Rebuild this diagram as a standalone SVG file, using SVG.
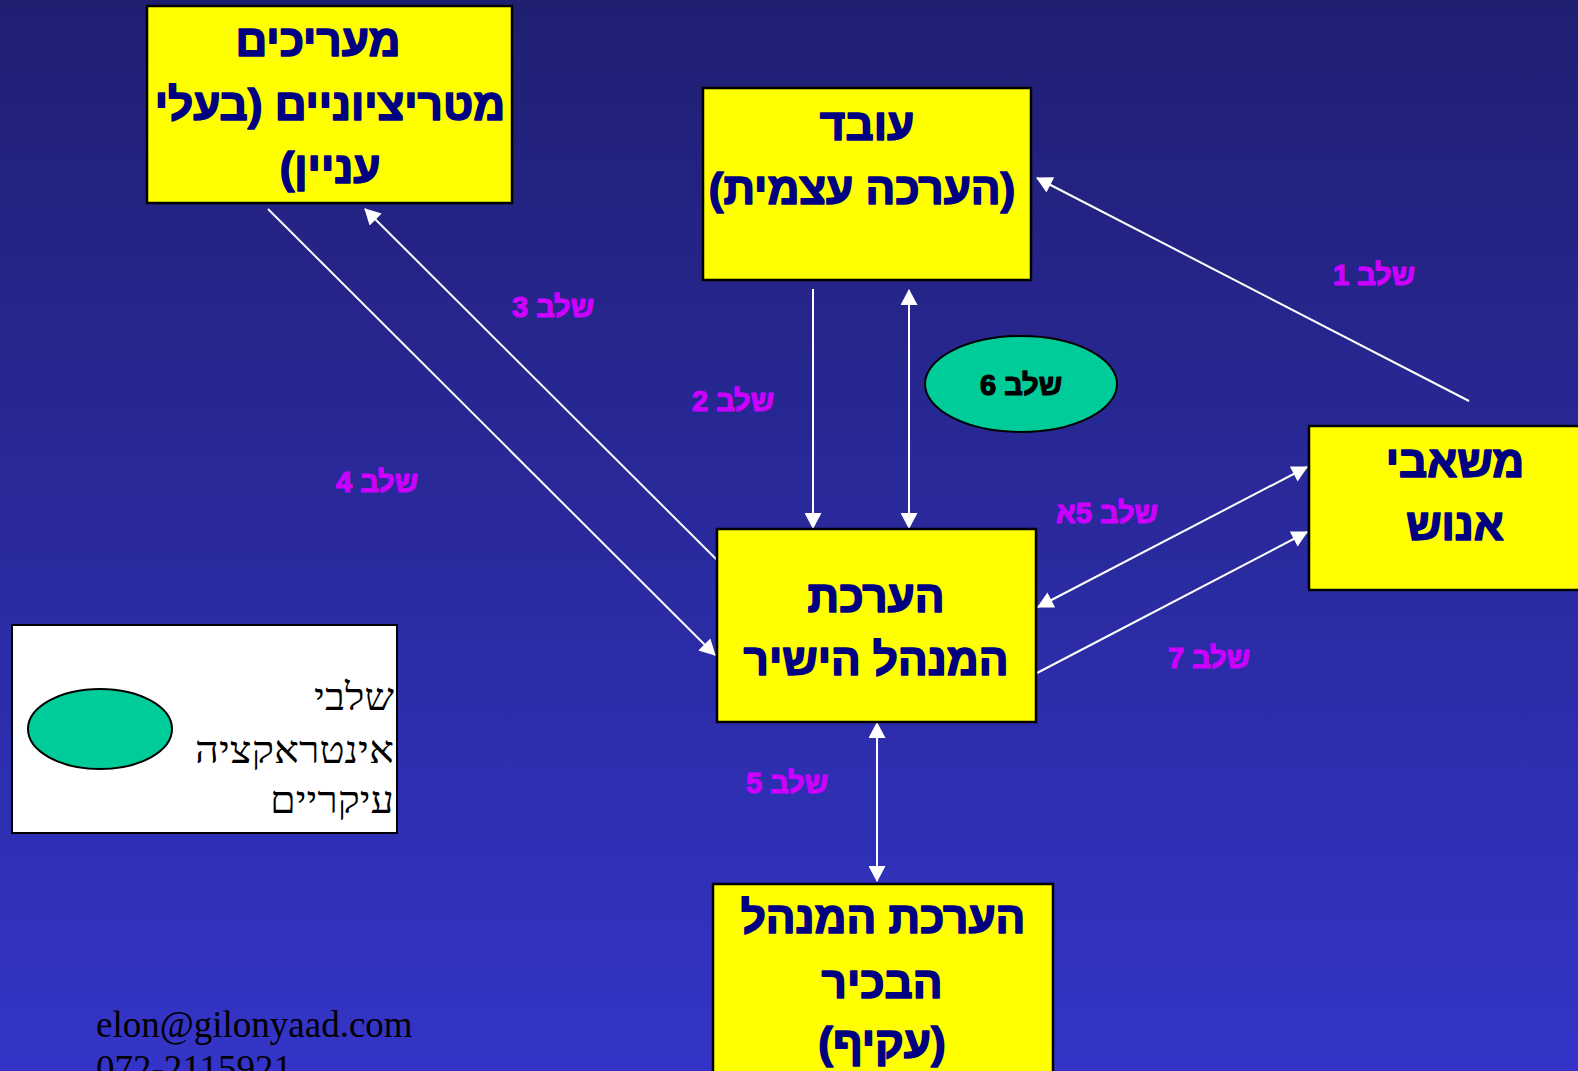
<svg xmlns="http://www.w3.org/2000/svg" width="1578" height="1071" viewBox="0 0 1578 1071">
  <defs>
    <linearGradient id="bg" x1="0" y1="0" x2="0" y2="1">
      <stop offset="0" stop-color="#1f1f72"/>
      <stop offset="1" stop-color="#3434c8"/>
    </linearGradient>
    <marker id="ah" markerUnits="userSpaceOnUse" markerWidth="17" markerHeight="17" viewBox="0 0 16 17" refX="15" refY="8.5" orient="auto-start-reverse">
      <path d="M0,0 L16,8.5 L0,17 z" fill="#ffffff"/>
    </marker>
    <style>
      .box { fill: #ffff00; stroke: #000000; stroke-width: 2.5; }
      .bt { font-family: "Liberation Sans", "DejaVu Sans", sans-serif; font-weight: bold; font-size: 44px; fill: #000080; stroke: #000080; stroke-width: 1.6; stroke-linejoin: round; text-anchor: middle; direction: rtl; }
      .lbl { font-family: "Liberation Sans", "DejaVu Sans", sans-serif; font-weight: bold; font-size: 29px; fill: #cc00ff; stroke: #cc00ff; stroke-width: 1.2; stroke-linejoin: round; text-anchor: middle; direction: rtl; }
      .conn { stroke: #ffffff; stroke-width: 2; fill: none; }
      .oval { fill: #00cc99; stroke: #000000; stroke-width: 2; }
      .leg { font-family: "Liberation Serif", "DejaVu Serif", serif; font-size: 38px; fill: #000000; text-anchor: start; direction: rtl; }
    </style>
  </defs>
  <rect x="0" y="0" width="1578" height="1071" fill="url(#bg)"/>

  <g id="connectors">
    <line class="conn" x1="268" y1="209" x2="715" y2="655" marker-end="url(#ah)"/>
    <line class="conn" x1="717" y1="560" x2="365" y2="209" marker-end="url(#ah)"/>
    <line class="conn" x1="813" y1="289" x2="813" y2="528" marker-end="url(#ah)"/>
    <line class="conn" x1="909" y1="290" x2="909" y2="528" marker-start="url(#ah)" marker-end="url(#ah)"/>
    <line class="conn" x1="1469" y1="401" x2="1037" y2="178" marker-end="url(#ah)"/>
    <line class="conn" x1="1307" y1="467" x2="1038" y2="607" marker-start="url(#ah)" marker-end="url(#ah)"/>
    <line class="conn" x1="1037" y1="673" x2="1307" y2="532" marker-end="url(#ah)"/>
    <line class="conn" x1="877" y1="723" x2="877" y2="881" marker-start="url(#ah)" marker-end="url(#ah)"/>
  </g>

  <g id="labels">
    <text class="lbl" x="1374" y="285">שלב 1</text>
    <text class="lbl" x="733" y="411">שלב 2</text>
    <text class="lbl" x="553" y="317">שלב 3</text>
    <text class="lbl" x="377" y="492">שלב 4</text>
    <text class="lbl" x="1107" y="523">שלב 5א</text>
    <text class="lbl" x="1209" y="668">שלב 7</text>
    <text class="lbl" x="787" y="793">שלב 5</text>
  </g>

  <g id="node-evaluators">
    <rect class="box" x="147" y="6" width="365" height="197"/>
    <text class="bt" x="318" y="56">מעריכים</text>
    <text class="bt" x="330" y="120">מטריציוניים (בעלי</text>
    <text class="bt" x="330" y="183">עניין)</text>
  </g>

  <g id="node-employee">
    <rect class="box" x="703" y="88" width="328" height="192"/>
    <text class="bt" x="867" y="140">עובד</text>
    <text class="bt" x="862" y="204">(הערכה עצמית)</text>
  </g>

  <g id="node-hr">
    <rect class="box" x="1309" y="426" width="292" height="164"/>
    <text class="bt" x="1455" y="477">משאבי</text>
    <text class="bt" x="1455" y="540">אנוש</text>
  </g>

  <g id="node-direct-manager">
    <rect class="box" x="717" y="529" width="319" height="193"/>
    <text class="bt" x="876" y="612">הערכת</text>
    <text class="bt" x="876" y="675">המנהל הישיר</text>
  </g>

  <g id="node-senior-manager">
    <rect class="box" x="713" y="884" width="340" height="200"/>
    <text class="bt" x="883" y="933">הערכת המנהל</text>
    <text class="bt" x="882" y="998">הבכיר</text>
    <text class="bt" x="882" y="1058">(עקיף)</text>
  </g>

  <g id="node-step6">
    <ellipse class="oval" cx="1021" cy="384" rx="96" ry="48"/>
    <text x="1021" y="395" font-family="Liberation Sans, DejaVu Sans, sans-serif" font-weight="bold" font-size="29" fill="#000000" stroke="#000000" stroke-width="1.2" stroke-linejoin="round" text-anchor="middle" direction="rtl">שלב 6</text>
  </g>

  <g id="legend">
    <rect x="12" y="625" width="385" height="208" fill="#ffffff" stroke="#000000" stroke-width="2"/>
    <ellipse class="oval" cx="100" cy="729" rx="72" ry="40"/>
    <text class="leg" x="394" y="710" textLength="80" lengthAdjust="spacingAndGlyphs">שלבי</text>
    <text class="leg" x="394" y="763" textLength="199" lengthAdjust="spacingAndGlyphs">אינטראקציה</text>
    <text class="leg" x="394" y="813" textLength="124" lengthAdjust="spacingAndGlyphs">עיקריים</text>
  </g>

  <g id="footer">
    <text x="96" y="1037" font-family="Liberation Serif, serif" font-size="37" fill="#000000">elon@gilonyaad.com</text>
    <text x="96" y="1081" font-family="Liberation Serif, serif" font-size="37" fill="#000000">072-2115921</text>
  </g>
</svg>
